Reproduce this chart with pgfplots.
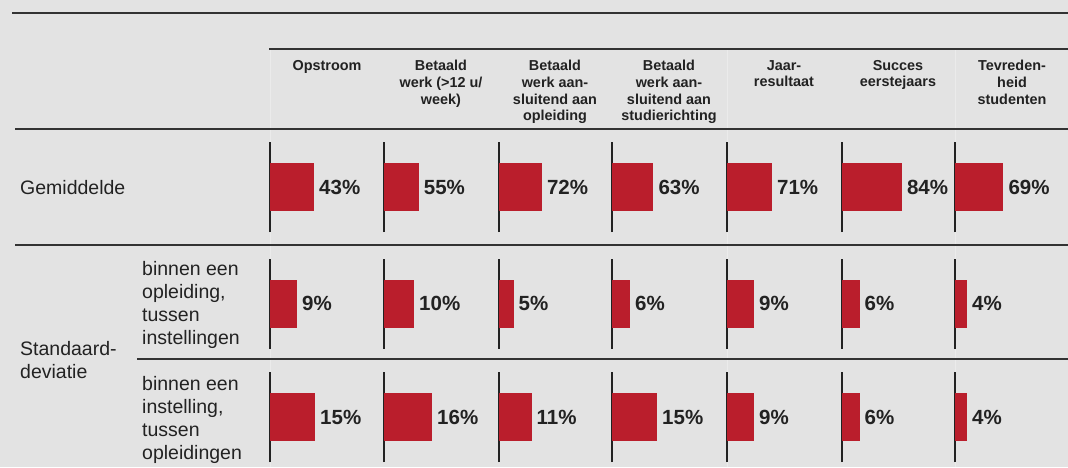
\documentclass[border=0pt]{standalone}
\usepackage{pgfplots}
\pgfplotsset{compat=1.18}
\usepackage{fontspec}
\setmainfont{Liberation Sans}
\definecolor{bgc}{HTML}{E3E3E3}
\definecolor{barred}{HTML}{BA1E2C}
\definecolor{ink}{HTML}{222222}
\definecolor{rulec}{HTML}{333333}
\definecolor{faint}{HTML}{EBEBEB}

\newcommand\valfont{\fontsize{20.5}{24}\selectfont\bfseries}
\newcommand\headfont{\fontsize{14.4}{16.7}\selectfont\bfseries}
\newcommand\rowfont{\fontsize{19.5}{23}\selectfont}

% one small axis per cell: vertical base line + one bar + label
\pgfplotsset{cell/.style={
  scale only axis, width=100pt, height=90pt, anchor=west,
  xmin=0, ymin=-1, ymax=1, clip=false,
  axis x line=none, axis y line=left,
  axis line style={-}, y axis line style={draw=ink, line width=2pt},
  xtick=\empty, ytick=\empty,
  xbar, bar width=48pt,
  point meta=x,
  /pgf/number format/assume math mode=true,
  nodes near coords={\pgfmathprintnumber{\pgfplotspointmeta}\%},
  nodes near coords align={horizontal},
  every node near coord/.append style={font=\valfont, text=ink, anchor=west, inner sep=0pt, xshift=5pt},
}}
% #1 x (px), #2 y centre (px), #3 value, #4 xmax of the cell axis
\newcommand{\cell}[4]{%
  \begin{axis}[cell, at={(#1pt,-#2pt)}, xmax=#4]
    \addplot[fill=barred, draw=none] coordinates {(#3,0)};
  \end{axis}}

\begin{document}
\begin{tikzpicture}
\fill[bgc] (0,0) rectangle (1068pt,-467pt);
\foreach \xx in {270,727,955}
  \draw[faint, line width=1pt] (\xx pt,-49pt) -- (\xx pt,-467pt);

% rules
\draw[rulec, line width=1.6pt] (12pt,-13pt) -- (1068pt,-13pt);
\draw[rulec, line width=1.6pt] (269pt,-49pt) -- (1068pt,-49pt);
\draw[rulec, line width=1.6pt] (15pt,-129pt) -- (1068pt,-129pt);
\draw[rulec, line width=1.6pt] (15pt,-245pt) -- (1068pt,-245pt);
\draw[rulec, line width=1.6pt] (137pt,-359pt) -- (1068pt,-359pt);

% column headers
\tikzset{hd/.style={anchor=north, inner sep=0pt, align=center, font=\headfont, text=ink}}
\node[hd] at (327pt,-60pt) {Opstroom};
\node[hd] at (441pt,-60pt) {Betaald\\werk (>12 u/\\week)};
\node[hd] at (555pt,-60pt) {Betaald\\werk aan-\\sluitend aan\\opleiding};
\node[hd] at (669pt,-60pt) {Betaald\\werk aan-\\sluitend aan\\studierichting};
\node[hd] at (784pt,-60pt) {Jaar-\\resultaat};
\node[hd] at (898pt,-60pt) {Succes\\eerstejaars};
\node[hd] at (1012pt,-60pt) {Tevreden-\\heid\\studenten};

% row labels
\tikzset{rl/.style={anchor=base west, inner sep=0pt, font=\rowfont, text=ink}}
\node[rl] at (20pt,-194pt) {Gemiddelde};
\node[rl] at (20pt,-355pt) {Standaard-};
\node[rl] at (20pt,-378pt) {deviatie};
\node[rl] at (142pt,-275pt) {binnen een};
\node[rl] at (142pt,-298pt) {opleiding,};
\node[rl] at (142pt,-321pt) {tussen};
\node[rl] at (142pt,-344pt) {instellingen};
\node[rl] at (142pt,-390pt) {binnen een};
\node[rl] at (142pt,-413pt) {instelling,};
\node[rl] at (142pt,-436pt) {tussen};
\node[rl] at (142pt,-459pt) {opleidingen};

% Gemiddelde
\cell{270}{187}{43}{97.7}
\cell{384}{187}{55}{158.5}
\cell{498.5}{187}{72}{166.3}
\cell{612}{187}{63}{152.5}
\cell{727}{187}{71}{157.8}
\cell{841.5}{187}{84}{139.3}
\cell{955}{187}{69}{142.6}
% SD binnen een opleiding, tussen instellingen
\cell{270}{303.5}{9}{33.33}
\cell{384}{303.5}{10}{33.33}
\cell{498.5}{303.5}{5}{33.33}
\cell{612}{303.5}{6}{33.33}
\cell{727}{303.5}{9}{33.33}
\cell{841.5}{303.5}{6}{33.33}
\cell{955}{303.5}{4}{33.33}
% SD binnen een instelling, tussen opleidingen
\cell{270}{417}{15}{33.33}
\cell{384}{417}{16}{33.33}
\cell{498.5}{417}{11}{33.33}
\cell{612}{417}{15}{33.33}
\cell{727}{417}{9}{33.33}
\cell{841.5}{417}{6}{33.33}
\cell{955}{417}{4}{33.33}

\pgfresetboundingbox
\path[use as bounding box] (0,0) rectangle (1068pt,-467pt);
\end{tikzpicture}
\end{document}
